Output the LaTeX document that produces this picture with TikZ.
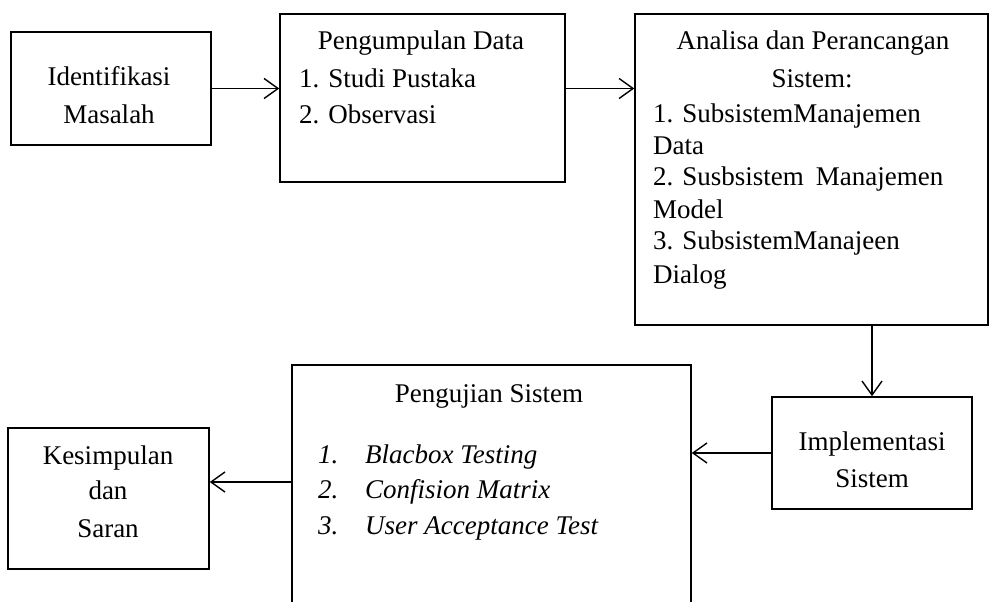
\documentclass[tikz,border=0pt]{standalone}
\usepackage{fontspec}
\setmainfont{Liberation Serif}
\usetikzlibrary{arrows.meta}
\tikzset{
  box/.style={draw, line width=1.5pt, rectangle, inner sep=0pt},
  txt/.style={inner sep=0pt, font=\fontsize{27}{34}\selectfont},
  flow/.style={line width=1.4pt, -{Straight Barb[length=14pt,width=20pt]}}
}
\begin{document}
\begin{tikzpicture}[x=1pt,y=-1pt]
\useasboundingbox (0,0) rectangle (990,602);
\clip (0,0) rectangle (990,602);
% boxes
\node[box, minimum width=200pt, minimum height=113pt] (idf) at (111,88.5) {};
\node[box, minimum width=285pt, minimum height=168pt] (pd) at (422.5,98) {};
\node[box, minimum width=353pt, minimum height=311pt] (an) at (811.5,169.5) {};
\node[box, minimum width=200pt, minimum height=112pt] (im) at (872,453) {};
\node[box, minimum width=399pt, minimum height=275pt] (pu) at (491.5,502.5) {};
\node[box, minimum width=201pt, minimum height=141pt] (ks) at (108.5,498.5) {};
% connectors
\draw[flow] (idf.east) -- (idf.east -| pd.west);
\draw[flow] (pd.east |- idf.east) -- (an.west |- idf.east);
\draw[flow] (im.north |- an.south) -- (im.north);
\draw[flow] (im.west) -- (im.west -| pu.east);
\draw[flow] ([yshift=20.5pt]pu.west) -- ([yshift=20.5pt]pu.west -| ks.east);
% texts
\node[txt, anchor=base] (t1) at (109,85) {Identifikasi};
\node[txt, anchor=base] (t2) at (109,123) {Masalah};
\node[txt, anchor=base] (t3) at (421,50) {Pengumpulan Data};
\node[txt, anchor=base west] (t4) at (299,87) {1. Studi Pustaka};
\node[txt, anchor=base west] (t5) at (299,123) {2. Observasi};
\node[txt, anchor=base] (t6) at (813,50) {Analisa dan Perancangan};
\node[txt, anchor=base] (t7) at (812,87) {Sistem:};
\node[txt, anchor=base west] (t8) at (653,122) {1. SubsistemManajemen};
\node[txt, anchor=base west] (t9) at (653,154) {Data};
\node[txt, anchor=base west] (t10) at (653,185) {2. Susbsistem\hspace{12pt}Manajemen};
\node[txt, anchor=base west] (t11) at (653,218) {Model};
\node[txt, anchor=base west] (t12) at (653,249) {3. SubsistemManajeen};
\node[txt, anchor=base west] (t13) at (653,283) {Dialog};
\node[txt, anchor=base] (t14) at (872,450) {Implementasi};
\node[txt, anchor=base] (t15) at (872,487) {Sistem};
\node[txt, anchor=base] (t16) at (489,402) {Pengujian Sistem};
\node[txt, anchor=base west] (n1) at (318,463) {\itshape 1.};
\node[txt, anchor=base west] (n2) at (318,498) {\itshape 2.};
\node[txt, anchor=base west] (n3) at (318,534) {\itshape 3.};
\node[txt, anchor=base west] (i1) at (365,463) {\itshape Blacbox Testing};
\node[txt, anchor=base west] (i2) at (365,498) {\itshape Confision Matrix};
\node[txt, anchor=base west] (i3) at (365,534) {\itshape User Acceptance Test};
\node[txt, anchor=base] (k1) at (108,464) {Kesimpulan};
\node[txt, anchor=base] (k2) at (108,499) {dan};
\node[txt, anchor=base] (k3) at (108,537) {Saran};
\end{tikzpicture}
\end{document}
